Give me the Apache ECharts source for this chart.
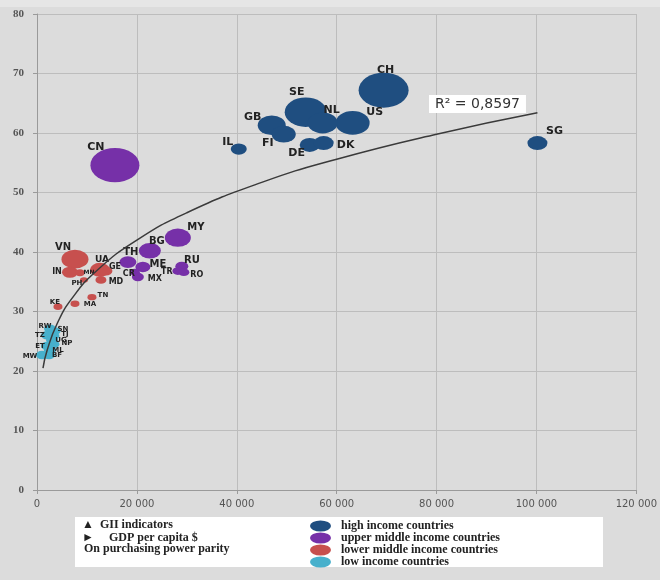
<!DOCTYPE html>
<html lang="en">
<head>
    <meta charset="UTF-8">
    <title>GII vs GDP per capita</title>
    <script src="https://cdn.jsdelivr.net/npm/echarts@6/dist/echarts.min.js"></script>
    <style>
        html, body { margin: 0; padding: 0; background: #dcdcdc; }
        #main { width: 660px; height: 580px; }
    </style>
</head>
<body>
    <div id="main"></div>
</body>
</html>
<script type="text/javascript">
    // high income countries
    var highCodes = ['CH', 'SE', 'US', 'NL', 'GB', 'FI', 'DE', 'DK', 'IL', 'SG'];
    var highGdp = [69400, 53800, 63200, 57200, 47000, 49400, 54600, 57400, 40400, 100200];
    var highGii = [67.2, 63.5, 61.7, 61.7, 61.3, 59.8, 58.0, 58.3, 57.3, 58.3];
    var highSize = [50, 42, 34, 30, 28, 24, 20, 20, 16, 20];

    // upper middle income countries
    var upperCodes = ['CN', 'MY', 'BG', 'TH', 'ME', 'CR', 'MX', 'RU', 'TR', 'RO'];
    var upperGdp = [15600, 28200, 22600, 18200, 21200, 19600, 20200, 29000, 28200, 29400];
    var upperGii = [54.6, 42.4, 40.2, 38.3, 37.5, 36.6, 35.8, 37.6, 36.8, 36.6];
    var upperSize = [49, 26, 22, 17, 15, 10, 12, 13, 11, 11];

    // lower middle income countries
    var lowerCodes = ['VN', 'IN', 'MN', 'PH', 'UA', 'GE', 'MD', 'TN', 'KE', 'MA'];
    var lowerGdp = [7600, 6600, 8600, 9400, 12600, 13800, 12800, 11000, 4200, 7600];
    var lowerGii = [38.8, 36.6, 36.5, 35.3, 37.0, 36.8, 35.3, 32.4, 30.8, 31.3];
    var lowerSize = [27, 16, 10, 8, 20, 13, 11, 9, 9, 9];

    // low income countries
    var lowCodes = ['RW', 'SN', 'TZ', 'TJ', 'UG', 'NP', 'ET', 'ML', 'MW', 'BF'];
    var lowGdp = [2600, 3600, 2000, 3400, 3000, 3400, 2000, 2600, 1000, 2400];
    var lowGii = [27.1, 26.7, 26.0, 25.9, 25.2, 24.5, 24.2, 23.5, 22.7, 22.7];
    var lowSize = [12, 11, 12, 11, 12, 11, 12, 12, 12, 12];

    // trend line
    var trendGdp = [1200, 2000, 4000, 7000, 12000, 20000, 30000, 45000, 60000, 80000, 100200];
    var trendGii = [20.5, 23.4, 27.9, 32.2, 36.9, 42.0, 46.6, 51.7, 55.6, 59.8, 63.4];

    var xTicks = [0, 20000, 40000, 60000, 80000, 100000, 120000];
    var yTicks = [0, 10, 20, 30, 40, 50, 60, 70, 80];

    // label offsets from bubble centre [dx, dy, fontSize]
    var labelLayout = {
        CH: [2, -20, 11], SE: [-9, -20, 11], NL: [9, -13, 11], US: [22, -11, 11], GB: [-19, -8, 11],
        FI: [-16, 9, 11], DE: [-13, 8, 11], DK: [22, 2, 11], IL: [-11, -7, 11], SG: [17, -12, 11],
        CN: [-19, -18, 11], MY: [18, -10, 10], BG: [7, -9, 10], TH: [3, -10, 10], ME: [15, -2, 10],
        CR: [-6, 2, 8], MX: [17, 2, 8], RU: [10, -6, 10], TR: [-11, 1, 8], RO: [13, 3, 8],
        VN: [-12, -12, 10], IN: [-13, 0, 8], MN: [9, 0, 6], PH: [-7, 3, 7], UA: [2, -10, 9],
        GE: [9, -4, 8], MD: [15, 2, 8], TN: [11, -2, 7], KE: [-3, -5, 7], MA: [15, 0, 7],
        RW: [-5, -3, 7], SN: [8, -2, 7], TZ: [-7, 0, 7], TJ: [11, -2, 7], UG: [9, 0, 7],
        NP: [13, -1, 7], ET: [-7, 0, 7], ML: [8, 0, 7], MW: [-12, 1, 7], BF: [8, 0, 7]
    };

    var ELLIPSE = 'path://M0,50A50,50,0,1,1,100,50A50,50,0,1,1,0,50Z';

    function bubbleSeries(name, color, codes, gdp, gii, size) {
        var data = [];
        for (var i = 0; i < codes.length; i++) {
            var lay = labelLayout[codes[i]];
            data.push({
                name: codes[i],
                value: [gdp[i], gii[i], size[i]],
                label: { offset: [lay[0], lay[1]], fontSize: lay[2] }
            });
        }
        return {
            name: name,
            type: 'scatter',
            symbol: ELLIPSE,
            symbolSize: function (v) { return [v[2], v[2] * 0.7]; },
            itemStyle: { color: color, opacity: 1 },
            label: {
                show: true,
                position: 'inside',
                formatter: '{b}',
                fontFamily: 'DejaVu Sans',
                fontWeight: 'bold',
                color: '#222'
            },
            emphasis: { disabled: true },
            data: data
        };
    }

    var myChart = echarts.init(document.getElementById('main'));

    var option = {
        backgroundColor: '#dcdcdc',
        animation: false,
        grid: { left: 37, right: 23, top: 14, bottom: 90 },
        xAxis: {
            type: 'value',
            min: xTicks[0],
            max: xTicks[xTicks.length - 1],
            interval: 20000,
            axisLine: { show: true, lineStyle: { color: '#9a9a9a' } },
            axisTick: { show: true, length: 4, lineStyle: { color: '#9a9a9a' } },
            splitLine: { lineStyle: { color: '#bdbdbd' } },
            axisLabel: {
                margin: 9,
                fontFamily: 'DejaVu Sans',
                fontSize: 10,
                color: '#555',
                formatter: function (v) { return String(v).replace(/\B(?=(\d{3})+(?!\d))/g, ' '); }
            }
        },
        yAxis: {
            type: 'value',
            min: yTicks[0],
            max: yTicks[yTicks.length - 1],
            interval: 10,
            axisLine: { show: true, lineStyle: { color: '#9a9a9a' } },
            axisTick: { show: true, length: 4, lineStyle: { color: '#9a9a9a' } },
            splitLine: { lineStyle: { color: '#bdbdbd' } },
            axisLabel: { margin: 13, fontFamily: 'Liberation Serif', fontWeight: 'bold', fontSize: 11, color: '#555' }
        },
        legend: {
            data: ['high income countries', 'upper middle income countries', 'lower middle income countries', 'low income countries'],
            orient: 'vertical',
            left: 305,
            top: 515,
            itemWidth: 21,
            itemHeight: 11,
            itemGap: 0,
            icon: ELLIPSE,
            symbolKeepAspect: false,
            selectedMode: false,
            textStyle: { fontFamily: 'Liberation Serif', fontWeight: 'bold', fontSize: 12, lineHeight: 12, color: '#222', padding: [0, 0, 0, 5] }
        },
        graphic: [
            { type: 'rect', z: -1, shape: { x: 0, y: 0, width: 660, height: 7 }, style: { fill: '#e6e6e6' } },
            { type: 'rect', z: -1, shape: { x: 75, y: 517, width: 528, height: 50 }, style: { fill: '#ffffff' } },
            { type: 'text', x: 82, y: 519, style: { text: '\u25B2  GII indicators', font: 'bold 12px "Liberation Serif"', fill: '#222' } },
            { type: 'text', x: 82, y: 532, style: { text: '\u25BA     GDP per capita $', font: 'bold 12px "Liberation Serif"', fill: '#222' } },
            { type: 'text', x: 84, y: 543, style: { text: 'On purchasing power parity', font: 'bold 12px "Liberation Serif"', fill: '#222' } },
            {
                type: 'text', x: 429, y: 95, z: 10,
                style: {
                    text: 'R\u00B2 = 0,8597', font: '14px "DejaVu Sans"', fill: '#333',
                    backgroundColor: '#ffffff', padding: [2, 6, 2, 6]
                }
            }
        ],
        series: [
            bubbleSeries('high income countries', '#1f4e80', highCodes, highGdp, highGii, highSize),
            bubbleSeries('upper middle income countries', '#7630a8', upperCodes, upperGdp, upperGii, upperSize),
            bubbleSeries('lower middle income countries', '#c7504e', lowerCodes, lowerGdp, lowerGii, lowerSize),
            bubbleSeries('low income countries', '#47b0cc', lowCodes, lowGdp, lowGii, lowSize),
            {
                name: 'trend',
                type: 'line',
                smooth: true,
                symbol: 'none',
                z: 5,
                lineStyle: { color: '#3a3a3a', width: 1.5 },
                emphasis: { disabled: true },
                data: trendGdp.map(function (g, i) { return [g, trendGii[i]]; })
            }
        ]
    };

    myChart.setOption(option);
</script>
